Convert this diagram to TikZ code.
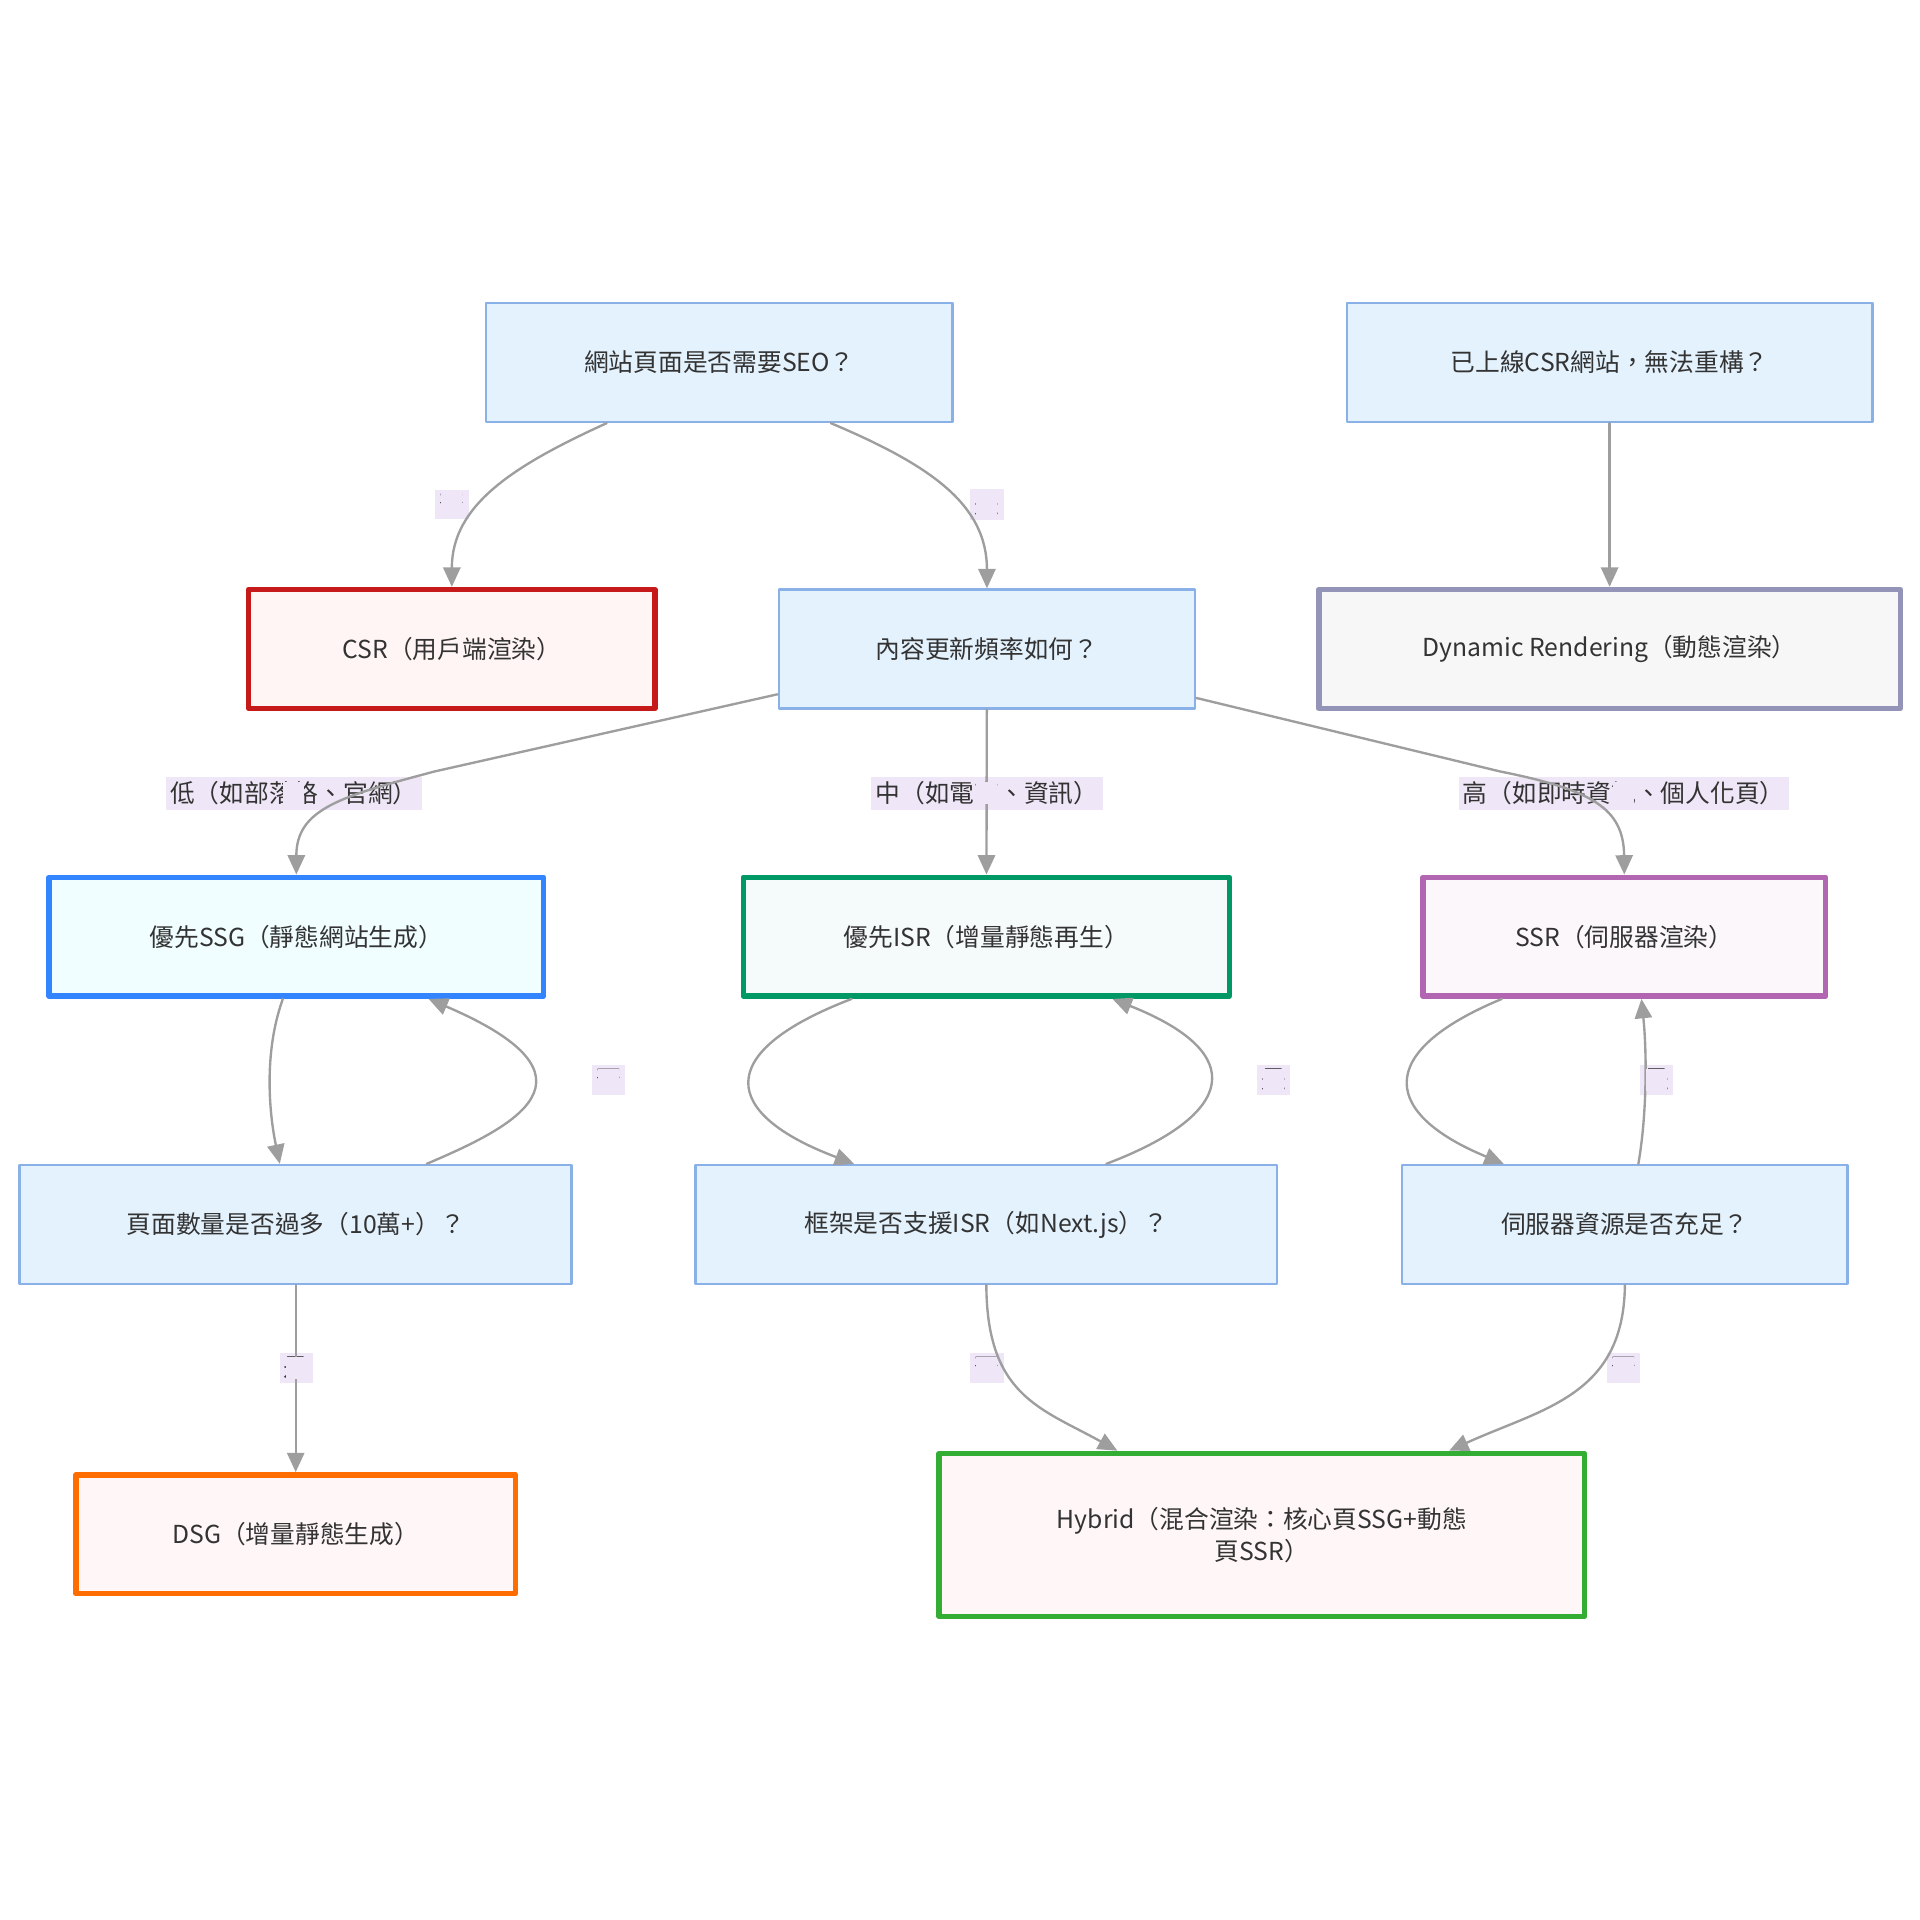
\documentclass[tikz,border=0pt]{standalone}
\usepackage{fontspec}
\setmainfont{Noto Sans CJK TC}
\usetikzlibrary{calc}
\usetikzlibrary{arrows.meta, positioning}
\definecolor{qfill}{HTML}{E3F2FD}
\definecolor{qline}{HTML}{8AB0E8}
\definecolor{edgec}{HTML}{9E9E9E}
\definecolor{labfill}{HTML}{EFE6F7}
\begin{document}
\begin{tikzpicture}[x=0.02cm, y=-0.02cm, line cap=round, line join=round,
    box/.style={draw=qline, fill=qfill, line width=1.2pt, minimum height=1.94cm, inner sep=0pt, font=\fontsize{11.5}{15}\selectfont, text=black!80},
    res/.style={box, line width=2.6pt},
    lab/.style={fill=labfill, inner sep=2pt, font=\fontsize{11.5}{14}\selectfont, text=black!80},
    arr/.style={draw=edgec, line width=1.1pt, -{Triangle[length=9pt, width=8pt, fill=edgec]}}]
            % frame
            \useasboundingbox (0,0) rectangle (1568,1568);

            % questions
            \node[box, minimum width=7.62cm] (seo) at (587.5,296) {網站頁面是否需要SEO？};
            \node[box, minimum width=8.58cm] (legacy) at (1314.5,296) {已上線CSR網站，無法重構？};
            \node[box, minimum width=6.8cm] (freq) at (806,530) {內容更新頻率如何？};
            \node[box, minimum width=9.02cm] (pages) at (241.5,1000) {頁面數量是否過多（10萬+）？};
            \node[box, minimum width=9.5cm] (fw) at (805.5,1000) {框架是否支援ISR（如Next.js）？};
            \node[box, minimum width=7.28cm] (srv) at (1327,1000) {伺服器資源是否充足？};

            % results
            \node[res, draw=red!75!black!90, fill=red!4, minimum width=6.64cm] (csr) at (369,530) {CSR（用戶端渲染）};
            \node[res, draw=gray!80!blue!70, fill=gray!6, minimum width=9.5cm] (dyn) at (1314.5,530) {Dynamic Rendering（動態渲染）};
            \node[res, draw=blue!60!cyan!80, fill=blue!4!cyan!6, minimum width=8.08cm] (ssg) at (242,765) {優先SSG（靜態網站生成）};
            \node[res, draw=teal!80!green, fill=teal!4, minimum width=7.94cm] (isr) at (805.5,765) {優先ISR（增量靜態再生）};
            \node[res, draw=violet!60, fill=violet!3, minimum width=6.58cm] (ssr) at (1326.5,765) {SSR（伺服器渲染）};
            \node[res, draw=orange!85!red, fill=red!3, minimum width=7.18cm] (dsg) at (241.5,1253) {DSG（增量靜態生成）};
            \node[res, draw=green!60!black!80, fill=red!3, minimum width=10.54cm, minimum height=2.66cm, align=center] (hyb) at (1030.5,1253.5) {Hybrid（混合渲染：核心頁SSG+動態\\頁SSR）};

            % edge labels
            \node[lab] (l1) at (369,412) {否};
            \node[lab] (l2) at (806,412) {是};
            \node[lab] (l3) at (240,648) {低（如部落格、官網）};
            \node[lab] (l4) at (806,648) {中（如電商、資訊）};
            \node[lab] (l5) at (1326,648) {高（如即時資訊、個人化頁）};
            \node[lab] (l6) at (497,882) {否};
            \node[lab] (l7) at (1040,882) {是};
            \node[lab] (l8) at (1353,882) {是};
            \node[lab] (l9) at (242,1117) {是};
            \node[lab] (l10) at (806,1117) {否};
            \node[lab] (l11) at (1326,1117) {否};

            % connectors
            \draw[arr] ($(seo.south)+(-92,0)$) .. controls (420,380) and (369,412) .. (csr.north);
            \draw[arr] ($(seo.south)+(91,0)$) .. controls (760,380) and (806,412) .. (freq.north);
            \draw[arr] (legacy) -- (dyn);
            \draw[arr] ($(freq.west)+(0,37)$) -- (355,630) .. controls (280,650) and (242,660) .. (ssg.north);
            \draw[arr] (freq) -- (isr);
            \draw[arr] ($(freq.east)+(0,40)$) -- (1225,630) .. controls (1300,645) and (1326,660) .. (ssr.north);
            \draw[arr] ($(ssg.south)+(-11,0)$) .. controls (215,860) and (220,910) .. ($(pages.north)+(-13,0)$);
            \draw[arr] ($(pages.north)+(107,0)$) .. controls (420,920) and (500,880) .. ($(ssg.south)+(108,0)$);
            \draw[arr] ($(isr.south)+(-110,0)$) .. controls (580,860) and (590,910) .. ($(fw.north)+(-108,0)$);
            \draw[arr] ($(fw.north)+(98,0)$) .. controls (1010,910) and (1020,860) .. ($(isr.south)+(103,0)$);
            \draw[arr] ($(ssr.south)+(-100,0)$) .. controls (1120,860) and (1130,910) .. ($(srv.north)+(-99,0)$);
            \draw[arr] ($(srv.north)+(11,0)$) .. controls (1345,910) and (1345,860) .. ($(ssr.south)+(14,0)$);
            \draw[arr] (pages) -- (dsg);
            \draw[arr] (fw.south) .. controls (806,1140) and (850,1150) .. ($(hyb.north)+(-118,0)$);
            \draw[arr] (srv.south) .. controls (1326,1140) and (1260,1150) .. ($(hyb.north)+(153,0)$);

            % labels on top
            \foreach \l in {l1,l2,l3,l4,l5,l6,l7,l8,l9,l10,l11} { \node[lab] at (\l) {\phantom{x}}; }
        \end{tikzpicture}
\end{document}
